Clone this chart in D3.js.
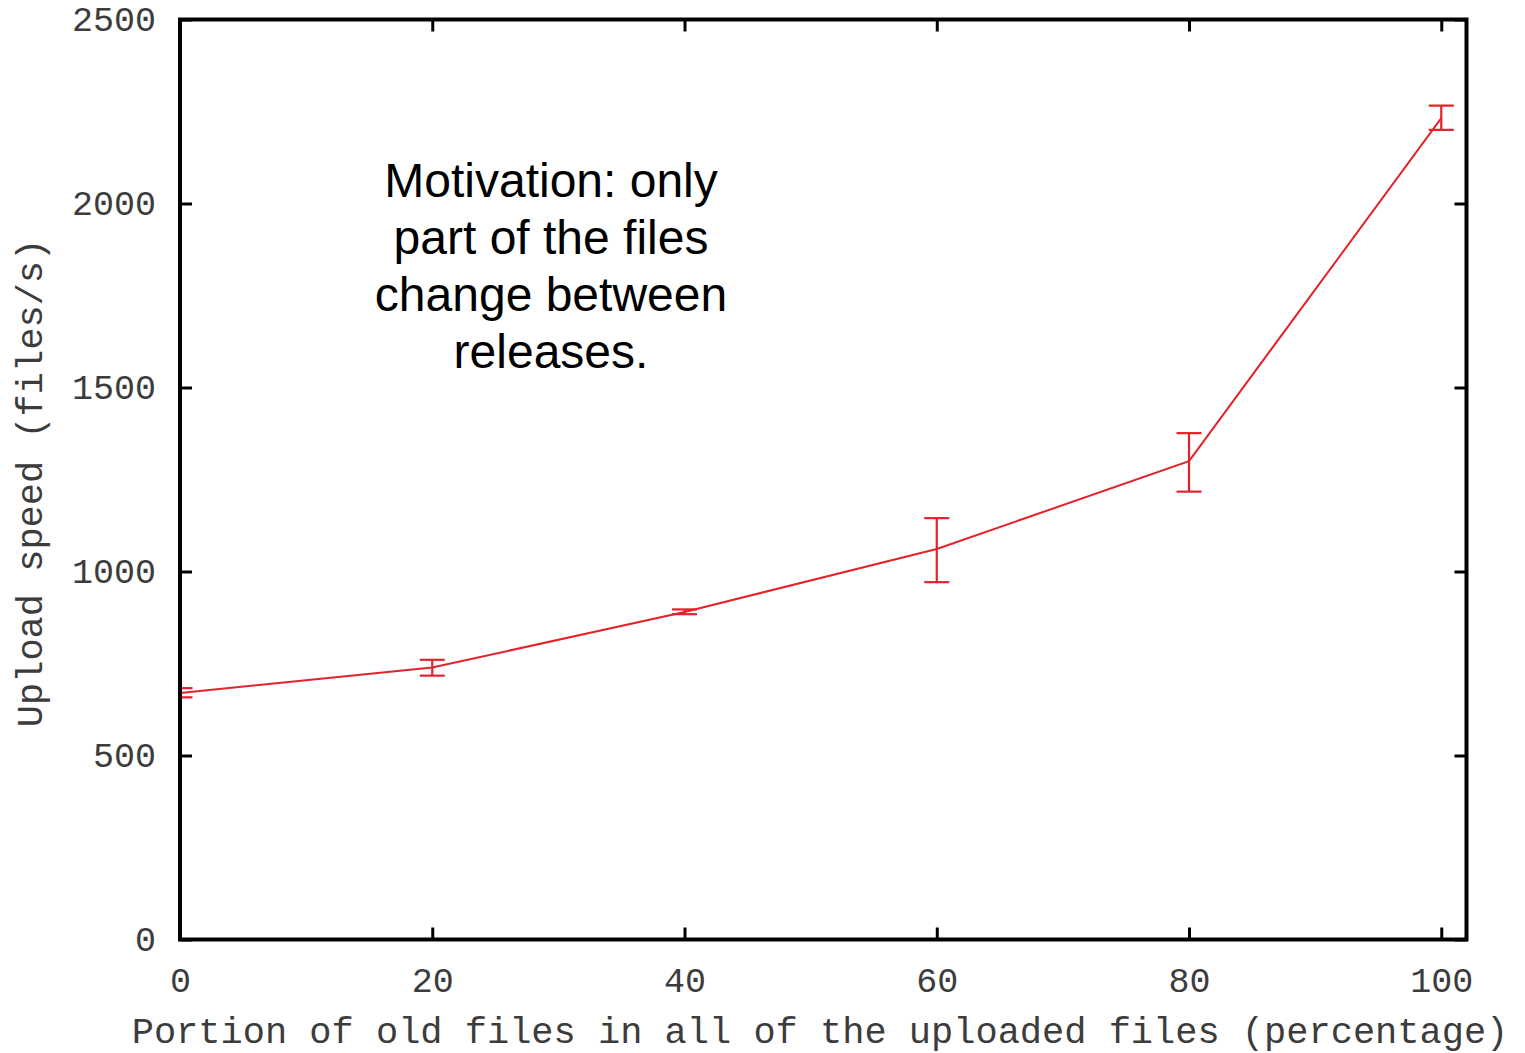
<!DOCTYPE html>
<html>
<head>
<meta charset="utf-8">
<script src="https://cdn.jsdelivr.net/npm/d3@7"></script>
<style>
  html, body { margin: 0; padding: 0; background: #fff; }
  svg { display: block; }
</style>
</head>
<body>
<svg id="chart" width="1525" height="1053"></svg>
<script>
// ---- data ----
const portions = [0, 20, 40, 60, 80, 100];            // % old files
const speeds   = [670, 739, 890, 1061, 1300, 2232];    // files/s (mean)
const errLow   = [658, 717, 884, 971, 1217, 2200];     // lower end of error bar
const errHigh  = [683, 760, 897, 1145, 1376, 2266];    // upper end of error bar
const xTicks   = [0, 20, 40, 60, 80, 100];
const yTicks   = [0, 500, 1000, 1500, 2000, 2500];
const xLabel   = "Portion of old files in all of the uploaded files (percentage)";
const yLabel   = "Upload speed (files/s)";
const noteLines = ["Motivation: only", "part of the files", "change between", "releases."];

(function () {
const svg = d3.select("#chart");
const pLeft = 180, pRight = 1466.5, pTop = 19.5, pBottom = 939.5;
const red = "#e3222a";
const textGrey = "#3c3c3c";
const mono = "'Liberation Mono', 'DejaVu Sans Mono', monospace";

const x = d3.scaleLinear().domain([0, 102]).range([pLeft, pRight]);
const y = d3.scaleLinear().domain([0, 2500]).range([pBottom, pTop]);

const points = portions.map((p, i) => ({ p, v: speeds[i], lo: errLow[i], hi: errHigh[i] }));

svg.append("defs").append("clipPath").attr("id", "plotclip")
  .append("rect").attr("x", pLeft).attr("y", pTop)
  .attr("width", pRight - pLeft).attr("height", pBottom - pTop);

const plot = svg.append("g").attr("clip-path", "url(#plotclip)");

// line
plot.append("path")
  .datum(points)
  .attr("fill", "none")
  .attr("stroke", red)
  .attr("stroke-width", 2)
  .attr("d", d3.line().x(d => x(d.p)).y(d => y(d.v)));

// error bars
const cap = 12.5;
const eb = plot.append("g").attr("stroke", red).attr("stroke-width", 2.2).attr("fill", "none");
points.forEach(d => {
  eb.append("line").attr("x1", x(d.p)).attr("x2", x(d.p)).attr("y1", y(d.lo)).attr("y2", y(d.hi));
  eb.append("line").attr("x1", x(d.p) - cap).attr("x2", x(d.p) + cap).attr("y1", y(d.lo)).attr("y2", y(d.lo));
  eb.append("line").attr("x1", x(d.p) - cap).attr("x2", x(d.p) + cap).attr("y1", y(d.hi)).attr("y2", y(d.hi));
});

// axes with inward ticks (mirrored on all sides)
const tickLen = 12;
function styleAxis(g) {
  g.select(".domain").remove();
  g.selectAll(".tick line").attr("stroke", "#000").attr("stroke-width", 3);
  g.selectAll(".tick text").attr("fill", textGrey).style("font-family", mono).style("font-size", "35px");
}
svg.append("g").attr("transform", `translate(0,${pBottom})`)
  .call(d3.axisBottom(x).tickValues(xTicks).tickSize(-tickLen).tickPadding(28).tickFormat(d3.format("d")))
  .call(styleAxis);
svg.append("g").attr("transform", `translate(0,${pTop})`)
  .call(d3.axisTop(x).tickValues(xTicks).tickSize(-tickLen).tickFormat(""))
  .call(styleAxis);
svg.append("g").attr("transform", `translate(${pLeft},0)`)
  .call(d3.axisLeft(y).tickValues(yTicks).tickSize(-tickLen).tickPadding(24).tickFormat(d3.format("d")))
  .call(styleAxis);
svg.append("g").attr("transform", `translate(${pRight},0)`)
  .call(d3.axisRight(y).tickValues(yTicks).tickSize(-tickLen).tickFormat(""))
  .call(styleAxis);

// frame
svg.append("rect")
  .attr("x", pLeft).attr("y", pTop)
  .attr("width", pRight - pLeft).attr("height", pBottom - pTop)
  .attr("fill", "none").attr("stroke", "#000").attr("stroke-width", 4);

// axis labels
svg.append("text")
  .attr("x", (130 + 1510) / 2).attr("y", 1043)
  .attr("text-anchor", "middle")
  .attr("fill", textGrey)
  .style("font-family", mono).style("font-size", "37px")
  .text(xLabel);
svg.append("text")
  .attr("transform", `translate(42,483) rotate(-90)`)
  .attr("text-anchor", "middle")
  .attr("fill", textGrey)
  .style("font-family", mono).style("font-size", "37px")
  .text(yLabel);

// annotation
const note = svg.append("text")
  .attr("text-anchor", "middle")
  .attr("fill", "#000")
  .style("font-family", "'Liberation Sans', Arial, sans-serif")
  .style("font-size", "48px");
noteLines.forEach((t, i) => {
  note.append("tspan").attr("x", 551).attr("y", 197 + i * 57).text(t);
});
})();
</script>
</body>
</html>
